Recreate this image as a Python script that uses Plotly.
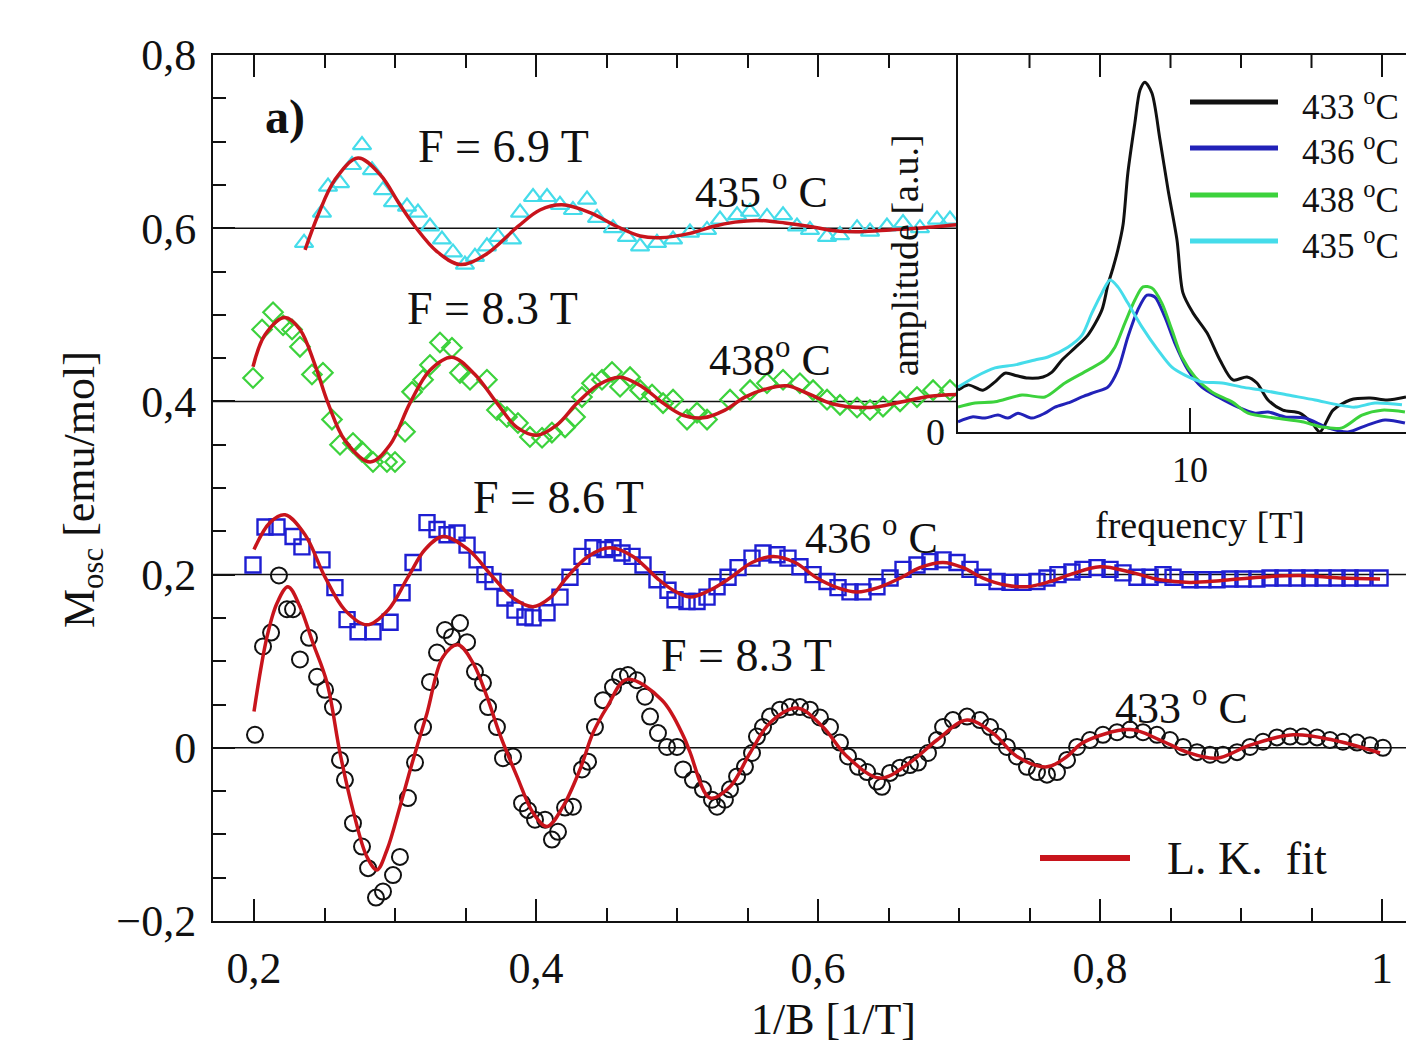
import plotly.graph_objects as go

# ---------------- main panel: de Haas-van Alphen oscillations vs 1/B ----------------
# 433 °C (circles), baseline 0
inv_b_433 = [0.2007, 0.2064, 0.2121, 0.2177, 0.2234, 0.2277, 0.2326, 0.2390, 0.2447, 0.2504,
             0.2560, 0.2610, 0.2645, 0.2702, 0.2766, 0.2809, 0.2865, 0.2915, 0.2986, 0.3035,
             0.3092, 0.3142, 0.3199, 0.3248, 0.3298, 0.3355, 0.3404, 0.3461, 0.3511, 0.3567,
             0.3624, 0.3660, 0.3723, 0.3766, 0.3837, 0.3901, 0.3943, 0.3993, 0.4064, 0.4113,
             0.4156, 0.4206, 0.4262, 0.4326, 0.4369, 0.4418, 0.4475, 0.4546, 0.4596, 0.4652,
             0.4716, 0.4773, 0.4809, 0.4865, 0.4929, 0.5000, 0.5043, 0.5113, 0.5184, 0.5248,
             0.5284, 0.5340, 0.5376, 0.5426, 0.5482, 0.5532, 0.5567, 0.5610, 0.5660, 0.5730,
             0.5801, 0.5872, 0.5943, 0.6014, 0.6085, 0.6156, 0.6213, 0.6284, 0.6348, 0.6418,
             0.6454, 0.6511, 0.6582, 0.6652, 0.6709, 0.6780, 0.6844, 0.6887, 0.6957, 0.7057,
             0.7149, 0.7220, 0.7277, 0.7340, 0.7411, 0.7482, 0.7553, 0.7624, 0.7695, 0.7766,
             0.7837, 0.7929, 0.8021, 0.8121, 0.8213, 0.8305, 0.8404, 0.8496, 0.8589, 0.8688,
             0.8780, 0.8872, 0.8972, 0.9064, 0.9156, 0.9255, 0.9348, 0.9440, 0.9539, 0.9631,
             0.9723, 0.9823, 0.9915, 1.0007]
m_433 = [0.015, 0.117, 0.133, 0.199, 0.160, 0.160, 0.102, 0.127, 0.082, 0.067,
         0.047, -0.014, -0.037, -0.087, -0.114, -0.139, -0.173, -0.166, -0.147, -0.126,
         -0.058, -0.017, 0.024, 0.076, 0.110, 0.136, 0.128, 0.144, 0.122, 0.088,
         0.075, 0.047, 0.024, -0.012, -0.010, -0.064, -0.072, -0.083, -0.083, -0.106,
         -0.097, -0.069, -0.068, -0.025, -0.016, 0.024, 0.055, 0.070, 0.082, 0.084,
         0.078, 0.059, 0.036, 0.017, 0.001, 0.001, -0.025, -0.037, -0.048, -0.060,
         -0.068, -0.060, -0.048, -0.033, -0.022, -0.006, 0.013, 0.024, 0.036, 0.044,
         0.047, 0.047, 0.044, 0.035, 0.024, 0.006, -0.010, -0.022, -0.028, -0.039,
         -0.045, -0.029, -0.023, -0.020, -0.017, -0.006, 0.009, 0.024, 0.032, 0.036,
         0.032, 0.024, 0.013, 0.001, -0.010, -0.022, -0.028, -0.031, -0.028, -0.014,
         0.001, 0.009, 0.015, 0.018, 0.021, 0.018, 0.015, 0.009, 0.001, -0.005,
         -0.008, -0.008, -0.005, 0.001, 0.007, 0.012, 0.013, 0.013, 0.012, 0.009,
         0.007, 0.006, 0.003, 0.000]
fit_x_433 = [0.2000, 0.2092, 0.2163, 0.2241, 0.2326, 0.2418, 0.2518, 0.2610, 0.2702, 0.2801,
             0.2872, 0.2943, 0.3035, 0.3128, 0.3227, 0.3340, 0.3447, 0.3553, 0.3652, 0.3745,
             0.3865, 0.3979, 0.4078, 0.4191, 0.4312, 0.4404, 0.4504, 0.4645, 0.4894, 0.5050,
             0.5092, 0.5234, 0.5376, 0.5518, 0.5660, 0.5851, 0.6035, 0.6206, 0.6440, 0.6652,
             0.6844, 0.7057, 0.7241, 0.7411, 0.7624, 0.7766, 0.7879, 0.8213, 0.8426, 0.8617,
             0.8830, 0.9064, 0.9369, 0.9652, 0.9986]
fit_y_433 = [0.042, 0.128, 0.167, 0.186, 0.163, 0.121, 0.075, -0.006, -0.072, -0.126,
             -0.141, -0.118, -0.068, -0.014, 0.040, 0.105, 0.119, 0.098, 0.059, 0.015,
             -0.033, -0.075, -0.091, -0.068, -0.025, 0.017, 0.047, 0.079, 0.055, 0.012,
             -0.005, -0.058, -0.045, -0.006, 0.029, 0.046, 0.024, -0.010, -0.035, -0.017,
             0.009, 0.032, 0.017, -0.010, -0.022, -0.010, 0.006, 0.021, 0.009, -0.005,
             -0.012, 0.003, 0.015, 0.009, -0.006]

# 436 °C (squares), baseline 0.2
inv_b_436 = [0.1993, 0.2078, 0.2163, 0.2277, 0.2340, 0.2482, 0.2574, 0.2660, 0.2738, 0.2844,
             0.2965, 0.3050, 0.3128, 0.3227, 0.3298, 0.3369, 0.3440, 0.3511, 0.3582, 0.3638,
             0.3695, 0.3780, 0.3851, 0.3922, 0.3979, 0.4078, 0.4170, 0.4241, 0.4326, 0.4404,
             0.4489, 0.4546, 0.4610, 0.4681, 0.4759, 0.4858, 0.4936, 0.4986, 0.5071, 0.5142,
             0.5213, 0.5284, 0.5362, 0.5433, 0.5532, 0.5610, 0.5709, 0.5787, 0.5872, 0.5965,
             0.6064, 0.6142, 0.6227, 0.6319, 0.6418, 0.6511, 0.6603, 0.6702, 0.6794, 0.6887,
             0.6986, 0.7078, 0.7170, 0.7270, 0.7362, 0.7454, 0.7553, 0.7624, 0.7702, 0.7801,
             0.7879, 0.7979, 0.8071, 0.8163, 0.8262, 0.8355, 0.8447, 0.8518, 0.8638, 0.8730,
             0.8830, 0.8922, 0.9014, 0.9113, 0.9206, 0.9298, 0.9397, 0.9489, 0.9582, 0.9681,
             0.9773, 0.9865, 0.9986]
m_436 = [0.211, 0.255, 0.255, 0.244, 0.232, 0.217, 0.185, 0.148, 0.134, 0.134,
         0.145, 0.179, 0.214, 0.260, 0.252, 0.246, 0.248, 0.234, 0.217, 0.200,
         0.192, 0.173, 0.159, 0.151, 0.150, 0.156, 0.174, 0.197, 0.221, 0.231,
         0.229, 0.231, 0.225, 0.221, 0.211, 0.194, 0.182, 0.171, 0.169, 0.169,
         0.174, 0.186, 0.197, 0.208, 0.219, 0.225, 0.223, 0.219, 0.209, 0.200,
         0.192, 0.185, 0.180, 0.180, 0.186, 0.196, 0.206, 0.211, 0.215, 0.217,
         0.214, 0.206, 0.197, 0.192, 0.191, 0.191, 0.192, 0.196, 0.200, 0.203,
         0.206, 0.208, 0.206, 0.202, 0.197, 0.197, 0.200, 0.197, 0.194, 0.194,
         0.194, 0.195, 0.195, 0.195, 0.196, 0.196, 0.196, 0.196, 0.196, 0.196,
         0.196, 0.196, 0.196]
fit_x_436 = [0.2000, 0.2113, 0.2220, 0.2362, 0.2504, 0.2645, 0.2801, 0.2950, 0.3092, 0.3213,
             0.3340, 0.3518, 0.3695, 0.3837, 0.3979, 0.4099, 0.4220, 0.4369, 0.4525, 0.4688,
             0.4858, 0.4972, 0.5092, 0.5234, 0.5376, 0.5532, 0.5681, 0.5837, 0.5993, 0.6135,
             0.6277, 0.6426, 0.6582, 0.6723, 0.6887, 0.7028, 0.7170, 0.7326, 0.7482, 0.7645,
             0.7787, 0.8000, 0.8213, 0.8426, 0.8638, 0.8851, 0.9135, 0.9418, 0.9702, 0.9986]
fit_y_436 = [0.229, 0.260, 0.269, 0.246, 0.197, 0.159, 0.142, 0.159, 0.197, 0.229,
             0.244, 0.229, 0.197, 0.173, 0.163, 0.173, 0.197, 0.221, 0.231, 0.221,
             0.196, 0.182, 0.174, 0.182, 0.196, 0.214, 0.221, 0.214, 0.196, 0.185,
             0.180, 0.185, 0.196, 0.208, 0.214, 0.208, 0.196, 0.188, 0.186, 0.192,
             0.200, 0.209, 0.203, 0.194, 0.191, 0.193, 0.197, 0.199, 0.196, 0.195]

# 438 °C (diamonds), baseline 0.4
inv_b_438 = [0.1993, 0.2057, 0.2135, 0.2206, 0.2270, 0.2326, 0.2411, 0.2489, 0.2553, 0.2610,
             0.2702, 0.2766, 0.2844, 0.2943, 0.3000, 0.3071, 0.3121, 0.3199, 0.3248, 0.3319,
             0.3404, 0.3461, 0.3532, 0.3652, 0.3723, 0.3794, 0.3872, 0.3957, 0.4043, 0.4113,
             0.4206, 0.4277, 0.4326, 0.4397, 0.4468, 0.4539, 0.4596, 0.4667, 0.4738, 0.4823,
             0.4901, 0.4972, 0.5071, 0.5142, 0.5213, 0.5376, 0.5518, 0.5638, 0.5752, 0.5872,
             0.5965, 0.6064, 0.6156, 0.6277, 0.6369, 0.6461, 0.6582, 0.6702, 0.6816, 0.6936]
m_438 = [0.427, 0.483, 0.503, 0.488, 0.483, 0.463, 0.431, 0.433, 0.379, 0.350,
         0.352, 0.342, 0.330, 0.330, 0.330, 0.365, 0.411, 0.425, 0.442, 0.468,
         0.462, 0.433, 0.425, 0.425, 0.390, 0.382, 0.375, 0.359, 0.358, 0.364,
         0.370, 0.382, 0.405, 0.421, 0.425, 0.434, 0.417, 0.428, 0.413, 0.408,
         0.398, 0.402, 0.379, 0.387, 0.379, 0.402, 0.413, 0.421, 0.425, 0.421,
         0.413, 0.402, 0.396, 0.393, 0.390, 0.394, 0.400, 0.405, 0.413, 0.413]
fit_x_438 = [0.1993, 0.2078, 0.2220, 0.2326, 0.2433, 0.2525, 0.2645, 0.2823, 0.2965, 0.3106,
             0.3248, 0.3404, 0.3567, 0.3723, 0.3865, 0.4007, 0.4149, 0.4291, 0.4440, 0.4596,
             0.4752, 0.4901, 0.5043, 0.5184, 0.5340, 0.5482, 0.5624, 0.5780, 0.5943, 0.6106,
             0.6369, 0.6582, 0.6794, 0.6986]
fit_y_438 = [0.440, 0.477, 0.497, 0.483, 0.442, 0.398, 0.355, 0.330, 0.350, 0.398,
             0.436, 0.451, 0.431, 0.398, 0.370, 0.361, 0.373, 0.398, 0.419, 0.428,
             0.417, 0.398, 0.384, 0.381, 0.390, 0.405, 0.414, 0.418, 0.408, 0.397,
             0.393, 0.399, 0.406, 0.408]

# 435 °C (triangles), baseline 0.6
inv_b_435 = [0.2355, 0.2482, 0.2525, 0.2610, 0.2695, 0.2766, 0.2837, 0.2915, 0.2986, 0.3085,
             0.3163, 0.3248, 0.3333, 0.3411, 0.3496, 0.3567, 0.3652, 0.3730, 0.3830, 0.3887,
             0.3979, 0.4078, 0.4170, 0.4262, 0.4362, 0.4433, 0.4546, 0.4645, 0.4738, 0.4858,
             0.4972, 0.5092, 0.5213, 0.5305, 0.5426, 0.5518, 0.5638, 0.5752, 0.5851, 0.5943,
             0.6064, 0.6156, 0.6277, 0.6369, 0.6489, 0.6603, 0.6723, 0.6844, 0.6936]
m_435 = [0.583, 0.618, 0.648, 0.652, 0.673, 0.696, 0.667, 0.644, 0.630, 0.625,
         0.618, 0.602, 0.587, 0.572, 0.558, 0.567, 0.579, 0.590, 0.587, 0.618,
         0.636, 0.636, 0.627, 0.621, 0.633, 0.612, 0.600, 0.590, 0.579, 0.583,
         0.587, 0.595, 0.598, 0.610, 0.615, 0.619, 0.613, 0.615, 0.602, 0.598,
         0.590, 0.592, 0.600, 0.596, 0.602, 0.606, 0.600, 0.610, 0.610]
fit_x_435 = [0.2362, 0.2454, 0.2574, 0.2738, 0.2894, 0.3035, 0.3142, 0.3298, 0.3461, 0.3638,
             0.3872, 0.4028, 0.4184, 0.4383, 0.4574, 0.4738, 0.4879, 0.5092, 0.5255, 0.5411,
             0.5567, 0.5766, 0.5943, 0.6121, 0.6298, 0.6511, 0.6702, 0.6986]
fit_y_435 = [0.575, 0.615, 0.656, 0.681, 0.662, 0.627, 0.602, 0.573, 0.558, 0.569,
             0.602, 0.621, 0.627, 0.618, 0.602, 0.591, 0.589, 0.594, 0.602, 0.607,
             0.609, 0.606, 0.602, 0.597, 0.596, 0.598, 0.600, 0.604]

baselines = [0.0, 0.2, 0.4, 0.6]

# ---------------- inset: Fourier spectra ----------------
freq_433 = [1.41, 1.78, 2.33, 2.78, 3.15, 3.59, 4.00, 4.56, 4.89, 5.26, 5.74, 6.22, 6.74, 6.96,
            7.15, 7.33, 7.52, 7.70, 7.96, 8.15, 8.33, 8.59, 8.89, 9.19, 9.52, 9.74, 10.11,
            10.63, 11.11, 11.59, 12.11, 12.48, 12.89, 13.44, 14.07, 14.52, 14.81, 15.30,
            15.93, 16.67, 17.30, 18.00]
amp_433 = [0.111, 0.125, 0.111, 0.133, 0.156, 0.149, 0.143, 0.146, 0.159, 0.191, 0.223, 0.257,
           0.324, 0.390, 0.435, 0.483, 0.549, 0.687, 0.820, 0.907, 0.928, 0.899, 0.775, 0.642,
           0.509, 0.369, 0.316, 0.263, 0.191, 0.138, 0.146, 0.130, 0.085, 0.058, 0.050, 0.024,
           0.000, 0.058, 0.085, 0.090, 0.085, 0.093]
freq_436 = [1.41, 1.93, 2.41, 2.89, 3.26, 3.63, 4.15, 4.63, 5.00, 5.48, 6.00, 6.48, 6.96, 7.33,
            7.70, 8.07, 8.41, 8.70, 9.07, 9.44, 9.93, 10.44, 11.04, 11.78, 12.41, 12.89, 13.52,
            14.26, 15.11, 15.85, 16.59, 17.22, 17.96]
amp_436 = [0.027, 0.040, 0.037, 0.045, 0.037, 0.050, 0.037, 0.050, 0.066, 0.077, 0.093, 0.106,
           0.119, 0.164, 0.252, 0.324, 0.363, 0.358, 0.305, 0.236, 0.164, 0.119, 0.093, 0.066,
           0.050, 0.053, 0.040, 0.037, 0.011, 0.000, 0.019, 0.032, 0.024]
freq_438 = [1.41, 2.04, 2.78, 3.78, 4.63, 5.37, 6.22, 6.85, 7.22, 7.59, 7.96, 8.26, 8.59, 8.96,
            9.33, 9.70, 10.19, 10.81, 11.56, 12.15, 13.15, 14.15, 14.89, 15.63, 16.37, 17.11,
            17.96]
amp_438 = [0.066, 0.077, 0.080, 0.098, 0.093, 0.130, 0.164, 0.191, 0.225, 0.289, 0.350, 0.385,
           0.382, 0.342, 0.271, 0.199, 0.146, 0.106, 0.080, 0.050, 0.037, 0.027, 0.013, 0.011,
           0.045, 0.058, 0.053]
freq_435 = [1.41, 2.04, 2.78, 3.52, 4.26, 4.74, 5.48, 6.00, 6.37, 6.74, 7.04, 7.33, 7.70, 8.22,
            8.81, 9.33, 9.81, 10.44, 11.19, 11.93, 12.67, 13.63, 14.63, 15.48, 16.11, 16.85,
            17.85]
amp_435 = [0.119, 0.146, 0.170, 0.178, 0.191, 0.199, 0.225, 0.257, 0.316, 0.369, 0.403, 0.385,
           0.342, 0.279, 0.218, 0.172, 0.151, 0.133, 0.130, 0.119, 0.111, 0.098, 0.085, 0.072,
           0.066, 0.077, 0.072]

x_ticks = [0.2, 0.4, 0.6, 0.8, 1.0]
x_tick_text = ["0,2", "0,4", "0,6", "0,8", "1"]
y_ticks = [-0.2, 0.0, 0.2, 0.4, 0.6, 0.8]
y_tick_text = ["\u22120,2", "0", "0,2", "0,4", "0,6", "0,8"]
# 1/B top-axis ticks that run over the inset frame
inset_top_minor = [0.75, 0.85, 0.9, 0.95]
inset_top_major = [0.8, 1.0]

# ---------------- styling ----------------
SERIF = "Liberation Serif"
RED = "#c8141c"
BLACK = "#111111"
BLUE = "#1e1ed2"
GREEN = "#3cd23c"
CYAN = "#45dcea"

W, H = 1406, 1043
ML, MR, MT, MB = 213, 0, 55, 122
PW, PH = W - ML - MR, H - MT - MB
X_PER_PX = 1 / 1410.0
X_LO = 0.2 - 41 * X_PER_PX
X_HI = X_LO + PW * X_PER_PX
INSET_LEFT_PX = 958
MAJOR_LEN, MINOR_LEN = 22, 13


def px(xp):
    return (xp - ML) / PW


def py(yp):
    return (H - MB - yp) / PH


fig = go.Figure()


def data_trace(x, y, symbol, size, color, lw):
    fig.add_trace(go.Scatter(x=x, y=y, mode="markers", showlegend=False,
                             marker=dict(symbol=symbol, size=size, color=color,
                                         line=dict(color=color, width=lw))))


def fit_trace(x, y):
    fig.add_trace(go.Scatter(x=x, y=y, mode="lines", showlegend=False,
                             line=dict(color=RED, width=3.5, shape="spline", smoothing=1.0)))


data_trace(inv_b_435, m_435, "triangle-up-open", 16, CYAN, 2.2)
fit_trace(fit_x_435, fit_y_435)
data_trace(inv_b_438, m_438, "diamond-open", 15, GREEN, 2.2)
fit_trace(fit_x_438, fit_y_438)
data_trace(inv_b_436, m_436, "square-open", 15, BLUE, 2.4)
fit_trace(fit_x_436, fit_y_436)
data_trace(inv_b_433, m_433, "circle-open", 16, BLACK, 2)
fit_trace(fit_x_433, fit_y_433)

# inset spectra
for f, a, c in [(freq_433, amp_433, BLACK), (freq_436, amp_436, "#2222b8"),
                (freq_438, amp_438, GREEN), (freq_435, amp_435, CYAN)]:
    fig.add_trace(go.Scatter(x=f, y=a, mode="lines", showlegend=False, xaxis="x2", yaxis="y2",
                             line=dict(color=c, width=3, shape="spline", smoothing=0.8)))

shapes = []
for b in baselines:
    shapes.append(dict(type="line", xref="paper", yref="y", x0=0, x1=1, y0=b, y1=b,
                       line=dict(color=BLACK, width=1.5), layer="below"))

# top ticks of the 1/B axis drawn on top of the inset frame
for vals, ln in [(inset_top_minor, MINOR_LEN), (inset_top_major, MAJOR_LEN)]:
    for t in vals:
        shapes.append(dict(type="line", xref="x", yref="paper", x0=t, x1=t, y0=1,
                           y1=1 - ln / PH, line=dict(color=BLACK, width=2), layer="above"))

# inset legend
inset_leg = [("433 <sup>o</sup>C", BLACK, 102), ("436 <sup>o</sup>C", "#2222b8", 148),
             ("438 <sup>o</sup>C", GREEN, 195), ("435 <sup>o</sup>C", CYAN, 241)]
annotations = []
for txt, c, yy in inset_leg:
    shapes.append(dict(type="line", xref="paper", yref="paper", x0=px(1190), x1=px(1278),
                       y0=py(yy), y1=py(yy), line=dict(color=c, width=5), layer="above"))
    annotations.append(dict(text=txt, x=px(1300), y=py(yy + 2), xref="paper", yref="paper",
                            showarrow=False, xanchor="left", yanchor="middle",
                            font=dict(family=SERIF, size=35, color=BLACK)))

# main legend
shapes.append(dict(type="line", xref="paper", yref="paper", x0=px(1040), x1=px(1130),
                   y0=py(858), y1=py(858), line=dict(color=RED, width=6), layer="above"))
annotations.append(dict(text="L. K.  fit", x=px(1165), y=py(858), xref="paper", yref="paper",
                        showarrow=False, xanchor="left", yanchor="middle",
                        font=dict(family=SERIF, size=46, color=BLACK)))


def label(text, xc, yc, size=45, **kw):
    d = dict(text=text, x=px(xc), y=py(yc), xref="paper", yref="paper", showarrow=False,
             xanchor="center", yanchor="middle", font=dict(family=SERIF, size=size, color=BLACK))
    d.update(kw)
    annotations.append(d)


label("<b>a)</b>", 285, 117, 48)
label("F = 6.9 T", 503, 147, 46)
label("435 <sup>o</sup> C", 761, 190, 44)
label("F = 8.3 T", 492, 308, 46)
label("438<sup>o</sup> C", 770, 357, 44)
label("F = 8.6 T", 558, 497, 46)
label("436 <sup>o</sup> C", 871, 535, 44)
label("F = 8.3 T", 746, 655, 46)
label("433 <sup>o</sup> C", 1181, 705, 44)
label("amplitude [a.u.]", 905, 255, 38, textangle=-90)
label("0", 935, 432, 38)
label("10", 1190, 470, 36)
label("frequency [T]", 1200, 525, 38)
label("M<sub>osc</sub> [emu/mol]", 82, 490, 44, textangle=-90)
label("1/B [1/T]", 833, 1019, 44)

axis_font = dict(family=SERIF, size=44, color=BLACK)
minor_ticks = dict(dtick=0.05, tick0=0, ticks="inside", ticklen=MINOR_LEN, tickwidth=2,
                   tickcolor=BLACK)
fig.update_layout(
    width=W, height=H,
    margin=dict(l=ML, r=MR, t=MT, b=MB),
    paper_bgcolor="white", plot_bgcolor="white",
    showlegend=False,
    font=dict(family=SERIF, color=BLACK),
    xaxis=dict(range=[X_LO, X_HI], domain=[0, 1],
               tickmode="array", tickvals=x_ticks, ticktext=x_tick_text,
               ticks="inside", ticklen=MAJOR_LEN, tickwidth=2, tickcolor=BLACK,
               minor=minor_ticks,
               showline=True, linewidth=2, linecolor=BLACK, mirror="ticks",
               showgrid=False, zeroline=False, tickfont=axis_font, ticklabelstandoff=7),
    yaxis=dict(range=[-0.2, 0.8], domain=[0, 1],
               tickmode="array", tickvals=y_ticks, ticktext=y_tick_text,
               ticks="inside", ticklen=MAJOR_LEN, tickwidth=2, tickcolor=BLACK,
               minor=minor_ticks,
               showline=True, linewidth=2, linecolor=BLACK,
               showgrid=False, zeroline=False, tickfont=axis_font, ticklabelstandoff=6),
    xaxis2=dict(domain=[px(INSET_LEFT_PX), 1], anchor="y2", range=[1.41, 18.0],
                tickmode="array", tickvals=[10], ticks="inside", ticklen=24, tickwidth=2,
                tickcolor=BLACK, showticklabels=False,
                showline=True, linewidth=2, linecolor=BLACK, mirror=True,
                showgrid=False, zeroline=False),
    yaxis2=dict(domain=[py(432), 1], anchor="x2", range=[0, 1.0],
                ticks="", showticklabels=False,
                showline=True, linewidth=2, linecolor=BLACK,
                showgrid=False, zeroline=False),
    shapes=shapes,
    annotations=annotations,
)

fig.write_html("out.html")
